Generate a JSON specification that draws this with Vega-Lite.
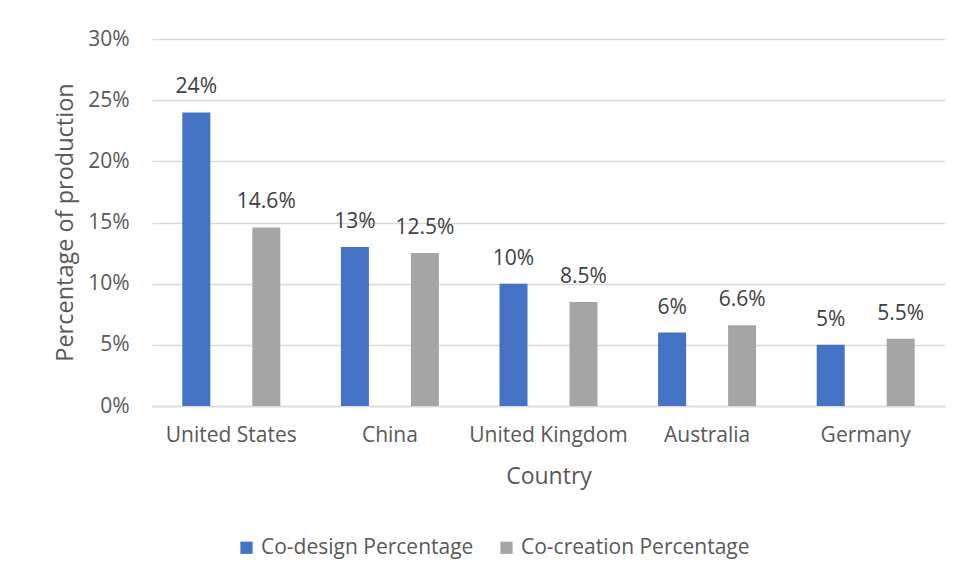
{
  "$schema": "https://vega.github.io/schema/vega-lite/v6.json",
  "width": 793,
  "height": 367,
  "autosize": {"type": "none"},
  "padding": {"left": 152, "top": 39, "right": 25, "bottom": 175},
  "background": "white",
  "config": {
    "font": "Open Sans",
    "view": {"stroke": null},
    "axis": {"labelFont": "Open Sans", "titleFont": "Open Sans"},
    "legend": {"labelFont": "Open Sans"}
  },
  "data": {
    "values": [
      {"country": "United States", "series": "Co-design Percentage", "value": 0.24, "label": "24%"},
      {"country": "United States", "series": "Co-creation Percentage", "value": 0.146, "label": "14.6%"},
      {"country": "China", "series": "Co-design Percentage", "value": 0.13, "label": "13%"},
      {"country": "China", "series": "Co-creation Percentage", "value": 0.125, "label": "12.5%"},
      {"country": "United Kingdom", "series": "Co-design Percentage", "value": 0.10, "label": "10%"},
      {"country": "United Kingdom", "series": "Co-creation Percentage", "value": 0.085, "label": "8.5%"},
      {"country": "Australia", "series": "Co-design Percentage", "value": 0.06, "label": "6%"},
      {"country": "Australia", "series": "Co-creation Percentage", "value": 0.066, "label": "6.6%"},
      {"country": "Germany", "series": "Co-design Percentage", "value": 0.05, "label": "5%"},
      {"country": "Germany", "series": "Co-creation Percentage", "value": 0.055, "label": "5.5%"}
    ]
  },
  "encoding": {
    "x": {
      "field": "country",
      "type": "nominal",
      "sort": null,
      "scale": {"paddingInner": 0, "paddingOuter": 0},
      "axis": {
        "title": "Country",
        "labelAngle": 0,
        "labelFontSize": 21,
        "labelColor": "#595959",
        "labelPadding": 18,
        "labelLimit": 0,
        "ticks": false,
        "domainColor": "#D9D9D9",
        "domainWidth": 1.5,
        "grid": false,
        "titleFontSize": 23,
        "titleFontWeight": "normal",
        "titleColor": "#595959",
        "titleY": 70,
        "titleBaseline": "middle"
      }
    },
    "xOffset": {
      "field": "series",
      "type": "nominal",
      "sort": ["Co-design Percentage", "Co-creation Percentage"],
      "scale": {"paddingInner": 0.6, "paddingOuter": 0.433}
    },
    "y": {
      "field": "value",
      "type": "quantitative",
      "scale": {"domain": [0, 0.3], "nice": false},
      "axis": {
        "title": "Percentage of production",
        "values": [0, 0.05, 0.1, 0.15, 0.2, 0.25, 0.3],
        "format": ".0%",
        "labelFontSize": 21,
        "labelColor": "#595959",
        "labelPadding": 23,
        "ticks": false,
        "domain": false,
        "gridColor": "#D9D9D9",
        "gridWidth": 1.5,
        "titleFontSize": 23.5,
        "titleFontWeight": "normal",
        "titleColor": "#595959",
        "titleX": -87,
        "titleY": 183,
        "titleAngle": -90,
        "titleAlign": "center",
        "titleBaseline": "middle"
      }
    }
  },
  "layer": [
    {
      "mark": {"type": "bar"},
      "encoding": {
        "color": {
          "field": "series",
          "type": "nominal",
          "sort": ["Co-design Percentage", "Co-creation Percentage"],
          "scale": {"domain": ["Co-design Percentage", "Co-creation Percentage"], "range": ["#4472C4", "#A5A5A5"]},
          "legend": {
            "title": null,
            "orient": "none",
            "legendX": 84,
            "legendY": 498,
            "direction": "horizontal",
            "symbolType": "square",
            "symbolSize": 150,
            "symbolStrokeWidth": 0,
            "labelFontSize": 21,
            "labelColor": "#595959",
            "labelLimit": 0,
            "labelOffset": 4,
            "columnPadding": 22
          }
        }
      }
    },
    {
      "mark": {"type": "text", "baseline": "middle", "dy": -25, "fontSize": 21, "color": "#404040"},
      "encoding": {"text": {"field": "label"}}
    }
  ]
}
